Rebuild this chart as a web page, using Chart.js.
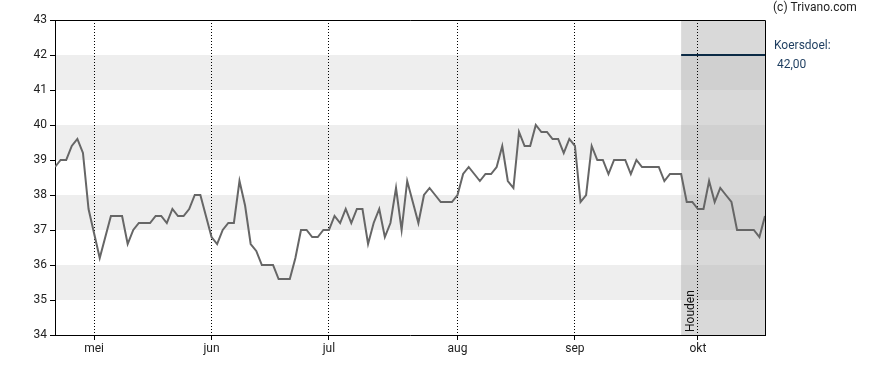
<!DOCTYPE html>
<html lang="nl">
<head>
    <meta charset="UTF-8">
    <title>Koersverloop</title>
    <style>
        body{
            font-family: Roboto, sans-serif;
            overflow: hidden;
            margin: 0;
            background: #fff;
        }
        #wrap{
            width: 888px;
            height: 370px;
            position: relative;
        }
    </style>
</head>
<body>
<div id="wrap"><canvas id="chart"></canvas></div>
<script src="https://cdn.jsdelivr.net/npm/chart.js"></script>
<script>
    // slotkoersen per handelsdag
    const prices = [
        38.8, 39.0, 39.0, 39.4, 39.6, 39.2, 37.6, 36.9, 36.2, 36.8,
        37.4, 37.4, 37.4, 36.6, 37.0, 37.2, 37.2, 37.2, 37.4, 37.4,
        37.2, 37.6, 37.4, 37.4, 37.6, 38.0, 38.0, 37.4, 36.8, 36.6,
        37.0, 37.2, 37.2, 38.4, 37.7, 36.6, 36.4, 36.0, 36.0, 36.0,
        35.6, 35.6, 35.6, 36.2, 37.0, 37.0, 36.8, 36.8, 37.0, 37.0,
        37.4, 37.2, 37.6, 37.2, 37.6, 37.6, 36.6, 37.2, 37.6, 36.8,
        37.2, 38.2, 37.0, 38.4, 37.8, 37.2, 38.0, 38.2, 38.0, 37.8,
        37.8, 37.8, 38.0, 38.6, 38.8, 38.6, 38.4, 38.6, 38.6, 38.8,
        39.4, 38.4, 38.2, 39.8, 39.4, 39.4, 40.0, 39.8, 39.8, 39.6,
        39.6, 39.2, 39.6, 39.4, 37.8, 38.0, 39.4, 39.0, 39.0, 38.6,
        39.0, 39.0, 39.0, 38.6, 39.0, 38.8, 38.8, 38.8, 38.8, 38.4,
        38.6, 38.6, 38.6, 37.8, 37.8, 37.6, 37.6, 38.4, 37.8, 38.2,
        38.0, 37.8, 37.0, 37.0, 37.0, 37.0, 36.8, 37.4
    ];
    const monthLabels = ['mei', 'jun', 'jul', 'aug', 'sep', 'okt'];
    const monthIdx = [7, 28, 49, 72, 93, 115];   // eerste handelsdag van de maand
    const bands = [[35, 36], [37, 38], [39, 40], [41, 42]];
    const adviceStart = 112;
    const adviceLabel = 'Houden';
    const koersdoel = 42;
    const koersdoelText = '42,00';

    const lastIdx = prices.length - 1;

    const backdrop = {
        id: 'backdrop',
        beforeDraw(chart) {
            const {ctx, chartArea: a, scales: {x, y}} = chart;
            const xs = x.getPixelForValue(adviceStart);
            ctx.save();
            ctx.fillStyle = '#d9d9d9';
            ctx.fillRect(xs, a.top, a.right - xs, a.bottom - a.top);
            bands.forEach(([lo, hi]) => {
                const y1 = y.getPixelForValue(hi), y2 = y.getPixelForValue(lo);
                ctx.fillStyle = '#eeeeee';
                ctx.fillRect(a.left, y1, xs - a.left, y2 - y1);
                ctx.fillStyle = '#d0d0d0';
                ctx.fillRect(xs, y1, a.right - xs, y2 - y1);
            });
            ctx.restore();
        },
        afterDraw(chart) {
            const {ctx, chartArea: a, scales: {x}} = chart;
            ctx.save();
            ctx.strokeStyle = '#000';
            ctx.lineWidth = 1;
            ctx.beginPath();
            ctx.moveTo(a.left, a.top + 0.5);
            ctx.lineTo(a.right + 0.5, a.top + 0.5);
            ctx.lineTo(a.right + 0.5, a.bottom);
            ctx.stroke();

            // advieslabel, verticaal
            const xs = x.getPixelForValue(adviceStart);
            ctx.translate(xs + 13, a.bottom - 3);
            ctx.rotate(-Math.PI / 2);
            ctx.fillStyle = '#111';
            ctx.font = '12px Roboto';
            ctx.textAlign = 'left';
            ctx.textBaseline = 'alphabetic';
            ctx.fillText(adviceLabel, 0, 0);
            ctx.restore();

            ctx.save();
            ctx.font = '12px Roboto';
            ctx.textBaseline = 'middle';
            ctx.fillStyle = '#222';
            ctx.fillText('(c) Trivano.com', a.right + 8, 8);
            ctx.fillStyle = '#1d3d5f';
            ctx.fillText('Koersdoel:', a.right + 9, 46);
            ctx.fillText(koersdoelText, a.right + 12, 65);
            ctx.restore();
        }
    };

    new Chart(document.getElementById('chart'), {
        type: 'line',
        data: {
            datasets: [{
                data: prices.map((v, i) => ({x: i, y: v})),
                borderColor: '#666666',
                borderWidth: 2,
                pointRadius: 0,
                tension: 0
            }, {
                data: [{x: adviceStart, y: koersdoel}, {x: lastIdx, y: koersdoel}],
                borderColor: '#0b2a45',
                borderWidth: 2,
                pointRadius: 0
            }]
        },
        options: {
            responsive: true,
            maintainAspectRatio: false,
            animation: false,
            events: [],
            layout: {padding: {left: 0, right: 123, top: 20, bottom: 0}},
            plugins: {legend: {display: false}, tooltip: {enabled: false}},
            scales: {
                x: {
                    type: 'linear',
                    min: 0,
                    max: lastIdx,
                    afterBuildTicks(scale) {
                        scale.ticks = monthIdx.map(v => ({value: v}));
                    },
                    afterFit(scale) { scale.height = 35; },
                    ticks: {
                        autoSkip: false,
                        maxRotation: 0,
                        padding: 2,
                        color: '#222',
                        font: {family: 'Roboto', size: 12},
                        callback: (v) => monthLabels[monthIdx.indexOf(v)]
                    },
                    grid: {
                        color: '#000',
                        lineWidth: 1,
                        tickLength: 5,
                        tickColor: '#000',
                        tickBorderDash: []
                    },
                    border: {color: '#000', width: 1, dash: [1, 2]}
                },
                y: {
                    min: 34,
                    max: 43,
                    afterFit(scale) { scale.width = 55; },
                    ticks: {
                        stepSize: 1,
                        padding: 3,
                        color: '#222',
                        font: {family: 'Roboto', size: 12}
                    },
                    grid: {
                        drawOnChartArea: false,
                        tickLength: 5,
                        color: '#000'
                    },
                    border: {color: '#000', width: 1}
                }
            }
        },
        plugins: [backdrop]
    });
</script>
</body>
</html>
